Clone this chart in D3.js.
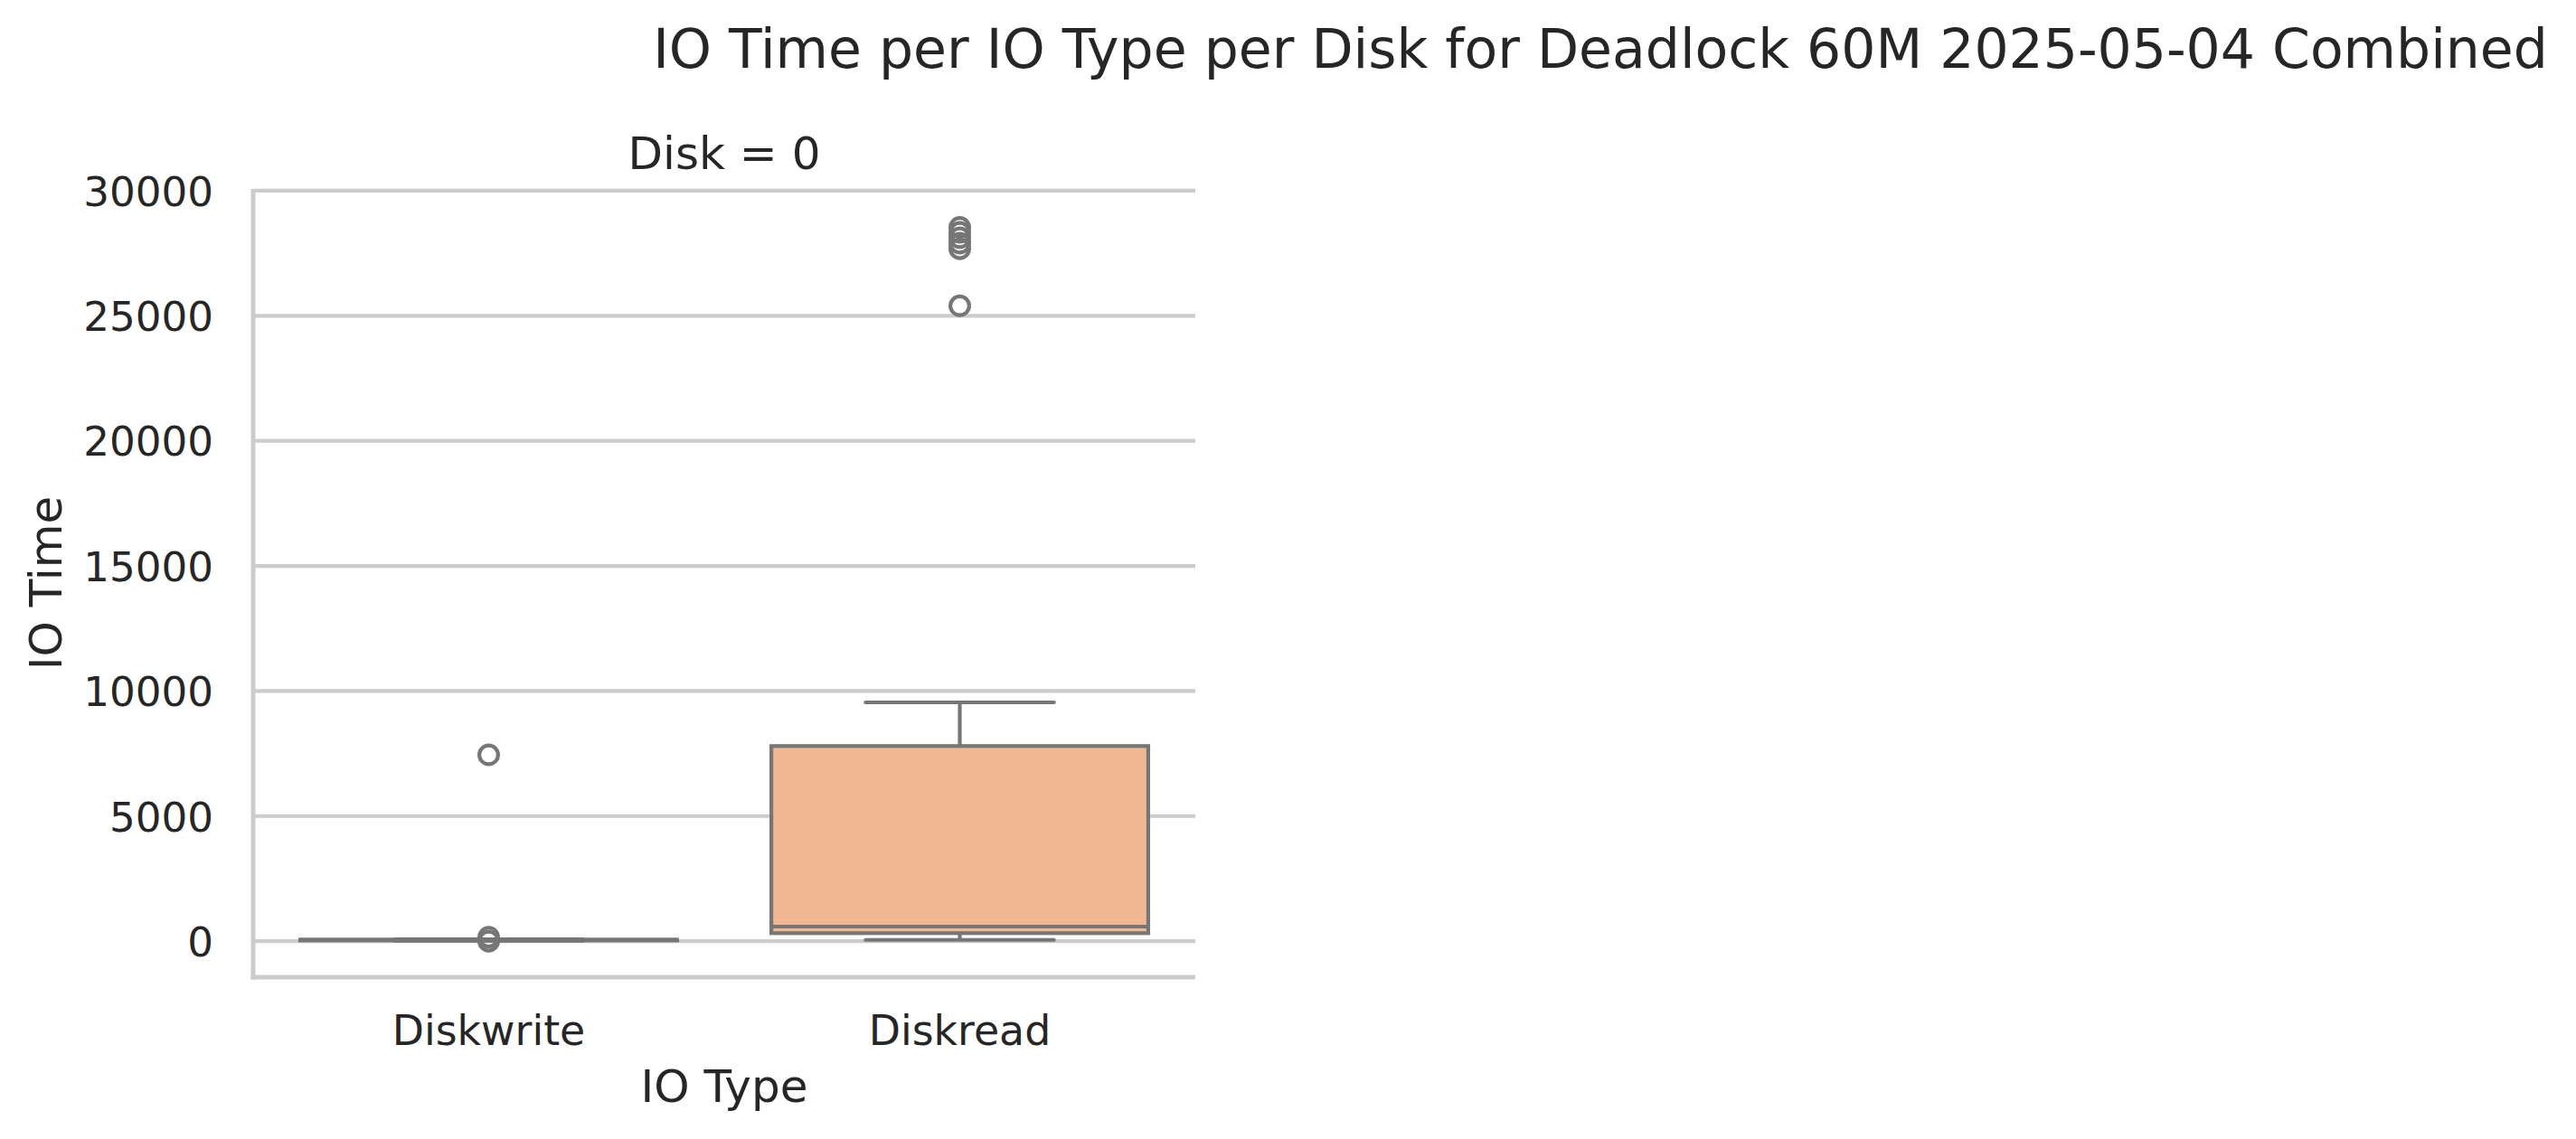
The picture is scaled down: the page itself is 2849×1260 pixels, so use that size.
<!DOCTYPE html>
<html>
<head>
<meta charset="utf-8">
<script src="https://cdn.jsdelivr.net/npm/d3@7"></script>
<style>
  html, body { margin: 0; padding: 0; background: #ffffff; }
  svg { display: block; }
  text { font-family: "DejaVu Sans", sans-serif; fill: #262626; }
</style>
</head>
<body>
<svg id="chart" width="2849" height="1260"></svg>
<script>
// ---- Data ----
const categories = ["Diskwrite", "Diskread"];
const whiskerLow  = [15, 52];
const q1Values    = [30, 320];
const medians     = [45, 584];
const q3Values    = [60, 7800];
const whiskerHigh = [75, 9545];
const outliers = [
  [0, 160, 7449],
  [25398, 27678, 27902, 28118, 28335, 28534]
];
const boxColors = ["#abc9ea", "#efb792"];
const yTicks = [0, 5000, 10000, 15000, 20000, 25000, 30000];
const yDomain = [-1440, 30070];

const titleText = "IO Time per IO Type per Disk for Deadlock 60M 2025-05-04 Combined";
const facetTitle = "Disk = 0";
const xLabel = "IO Type";
const yLabel = "IO Time";

// ---- Layout ----
const svg = d3.select("#chart");
const plot = { left: 280, right: 1322, top: 209, bottom: 1081 };
const lineGray = "#767676";
const gridGray = "#cccccc";
const lw = 4.17;

const x = d3.scaleBand().domain(categories).range([plot.left, plot.right]).paddingInner(0).paddingOuter(0);
const y = d3.scaleLinear().domain(yDomain).range([plot.bottom, plot.top]);

// grid
svg.append("g").selectAll("line").data(yTicks).join("line")
  .attr("x1", plot.left).attr("x2", plot.right)
  .attr("y1", d => y(d)).attr("y2", d => y(d))
  .attr("stroke", gridGray).attr("stroke-width", lw);

// y axis (labels only)
const yAxis = d3.axisLeft(y).tickValues(yTicks).tickFormat(d3.format("d")).tickSize(0).tickPadding(44);
const gy = svg.append("g").attr("transform", `translate(${plot.left},0)`).call(yAxis);
gy.select(".domain").remove();
gy.selectAll("text").style("font-size", "45.2px").style("font-family", "DejaVu Sans").attr("fill", "#262626").attr("dy", "0.36em");

// x axis labels
const xAxis = d3.axisBottom(x).tickSize(0).tickPadding(42);
const gx = svg.append("g").attr("transform", `translate(0,${plot.bottom})`).call(xAxis);
gx.select(".domain").remove();
gx.selectAll("text").style("font-size", "45.8px").style("font-family", "DejaVu Sans").attr("fill", "#262626");

// spines
svg.append("line").attr("x1", plot.left).attr("x2", plot.left).attr("y1", plot.top).attr("y2", plot.bottom + 2.5)
  .attr("stroke", gridGray).attr("stroke-width", 5);
svg.append("line").attr("x1", plot.left - 2.5).attr("x2", plot.right).attr("y1", plot.bottom).attr("y2", plot.bottom)
  .attr("stroke", gridGray).attr("stroke-width", 5);

// boxes
const boxW = x.bandwidth() * 0.8;
const capW = boxW * 0.5;
const boxes = svg.append("g");
categories.forEach((c, i) => {
  const cx = x(c) + x.bandwidth() / 2;
  const g = boxes.append("g");
  // whiskers
  g.append("line").attr("x1", cx).attr("x2", cx).attr("y1", y(q3Values[i])).attr("y2", y(whiskerHigh[i]))
    .attr("stroke", lineGray).attr("stroke-width", lw);
  g.append("line").attr("x1", cx).attr("x2", cx).attr("y1", y(q1Values[i])).attr("y2", y(whiskerLow[i]))
    .attr("stroke", lineGray).attr("stroke-width", lw);
  // caps
  [whiskerHigh[i], whiskerLow[i]].forEach(v => {
    g.append("line").attr("x1", cx - capW / 2).attr("x2", cx + capW / 2).attr("y1", y(v)).attr("y2", y(v))
      .attr("stroke", lineGray).attr("stroke-width", lw).attr("stroke-linecap", "round");
  });
  // box
  g.append("rect").attr("x", cx - boxW / 2).attr("width", boxW)
    .attr("y", y(q3Values[i])).attr("height", Math.max(0.01, y(q1Values[i]) - y(q3Values[i])))
    .attr("fill", boxColors[i]).attr("stroke", lineGray).attr("stroke-width", lw);
  // median
  g.append("line").attr("x1", cx - boxW / 2).attr("x2", cx + boxW / 2).attr("y1", y(medians[i])).attr("y2", y(medians[i]))
    .attr("stroke", lineGray).attr("stroke-width", lw);
  // outliers
  g.selectAll("circle").data(outliers[i]).join("circle")
    .attr("cx", cx).attr("cy", d => y(d)).attr("r", 10.4)
    .attr("fill", "none").attr("stroke", lineGray).attr("stroke-width", lw);
});

// titles
svg.append("text").attr("x", 1770).attr("y", 75).attr("text-anchor", "middle")
  .style("font-size", "60px").text(titleText);
svg.append("text").attr("x", (plot.left + plot.right) / 2).attr("y", 187).attr("text-anchor", "middle")
  .style("font-size", "50px").text(facetTitle);
svg.append("text").attr("x", (plot.left + plot.right) / 2).attr("y", 1219).attr("text-anchor", "middle")
  .style("font-size", "50px").text(xLabel);
svg.append("text").attr("transform", `translate(68,${(plot.top + plot.bottom) / 2}) rotate(-90)`).attr("text-anchor", "middle")
  .style("font-size", "50px").text(yLabel);
</script>
</body>
</html>
